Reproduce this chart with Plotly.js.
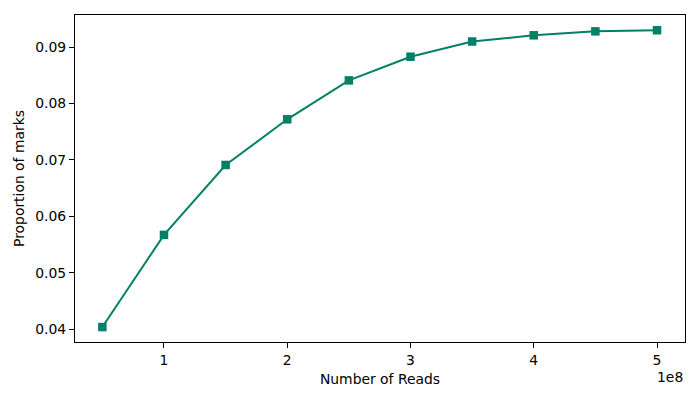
<!DOCTYPE html>
<html>
<head>
<meta charset="utf-8">
<script src="https://cdn.plot.ly/plotly-3.0.1.min.js"></script>
<style>html,body{margin:0;padding:0;background:#fff}#chart{width:700px;height:400px}</style>
</head>
<body>
<div id="chart"></div>
<script>
const reads = [5e7, 1e8, 1.5e8, 2e8, 2.5e8, 3e8, 3.5e8, 4e8, 4.5e8, 5e8];
const proportion = [0.04035, 0.0567, 0.0691, 0.0772, 0.0841, 0.0883, 0.0910, 0.0921, 0.0928, 0.0930];
const xTickVals = [1e8, 2e8, 3e8, 4e8, 5e8];
const xTickText = ['1', '2', '3', '4', '5'];
const yTickVals = [0.04, 0.05, 0.06, 0.07, 0.08, 0.09];
const yTickText = ['0.04', '0.05', '0.06', '0.07', '0.08', '0.09'];

const color = '#008066';
const trace = {
  x: reads, y: proportion, type: 'scatter', mode: 'lines+markers',
  line: {color: color, width: 2},
  marker: {symbol: 'square', size: 8.5, color: color}
};
const axisCommon = {
  showline: true, mirror: true, linecolor: '#000', linewidth: 1,
  ticks: 'outside', ticklen: 5, tickwidth: 1, tickcolor: '#000',
  showgrid: false, zeroline: false,
  tickfont: {size: 13.9, color: '#000'}
};
const layout = {
  width: 700, height: 400,
  margin: {l: 75, r: 15, t: 15, b: 58},
  paper_bgcolor: '#fff', plot_bgcolor: '#fff',
  font: {family: 'DejaVu Sans', size: 13.9, color: '#000'},
  showlegend: false,
  xaxis: Object.assign({}, axisCommon, {
    range: [2.78e7, 5.227e8], tickmode: 'array', tickvals: xTickVals, ticktext: xTickText,
    title: {text: 'Number of Reads', font: {size: 13.9}, standoff: 7}
  }),
  yaxis: Object.assign({}, axisCommon, {
    range: [0.0377, 0.0957], tickmode: 'array', tickvals: yTickVals, ticktext: yTickText,
    title: {text: 'Proportion of marks', font: {size: 13.9}, standoff: 7}
  }),
  annotations: [{
    text: '1e8', xref: 'paper', yref: 'paper', x: 1, y: 0, yshift: -25,
    xanchor: 'right', yanchor: 'top', showarrow: false, font: {size: 13.9}
  }]
};
Plotly.newPlot('chart', [trace], layout, {displayModeBar: false, staticPlot: true});
</script>
</body>
</html>
